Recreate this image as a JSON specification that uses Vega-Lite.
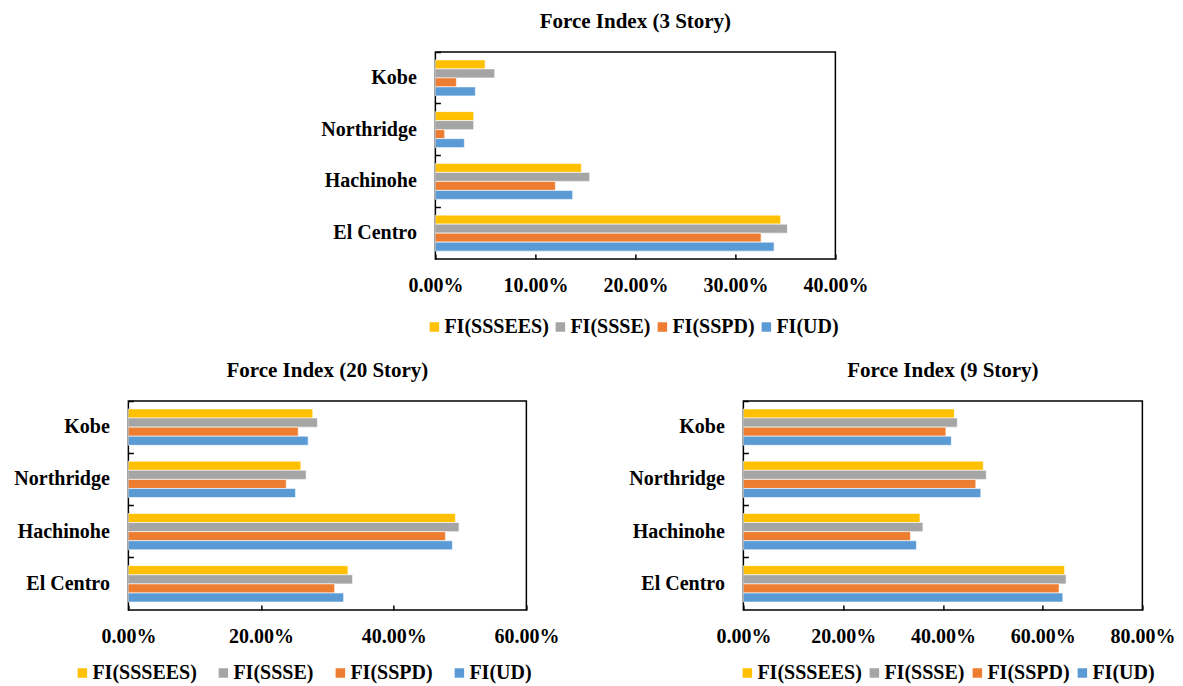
{
  "$schema": "https://vega.github.io/schema/vega-lite/v6.json",
  "padding": {"left": 13, "top": 10, "right": 0, "bottom": 0},
  "background": "white",
  "data": {"values": [
    {"p": "3", "q": "Kobe", "s": "FI(SSSEES)", "v": 0.0497},
    {"p": "3", "q": "Kobe", "s": "FI(SSSE)", "v": 0.0593},
    {"p": "3", "q": "Kobe", "s": "FI(SSPD)", "v": 0.021},
    {"p": "3", "q": "Kobe", "s": "FI(UD)", "v": 0.040},
    {"p": "3", "q": "Northridge", "s": "FI(SSSEES)", "v": 0.0383},
    {"p": "3", "q": "Northridge", "s": "FI(SSSE)", "v": 0.0383},
    {"p": "3", "q": "Northridge", "s": "FI(SSPD)", "v": 0.0093},
    {"p": "3", "q": "Northridge", "s": "FI(UD)", "v": 0.029},
    {"p": "3", "q": "Hachinohe", "s": "FI(SSSEES)", "v": 0.146},
    {"p": "3", "q": "Hachinohe", "s": "FI(SSSE)", "v": 0.1543},
    {"p": "3", "q": "Hachinohe", "s": "FI(SSPD)", "v": 0.120},
    {"p": "3", "q": "Hachinohe", "s": "FI(UD)", "v": 0.1373},
    {"p": "3", "q": "El Centro", "s": "FI(SSSEES)", "v": 0.3453},
    {"p": "3", "q": "El Centro", "s": "FI(SSSE)", "v": 0.352},
    {"p": "3", "q": "El Centro", "s": "FI(SSPD)", "v": 0.3257},
    {"p": "3", "q": "El Centro", "s": "FI(UD)", "v": 0.3387},
    {"p": "20", "q": "Kobe", "s": "FI(SSSEES)", "v": 0.278},
    {"p": "20", "q": "Kobe", "s": "FI(SSSE)", "v": 0.285},
    {"p": "20", "q": "Kobe", "s": "FI(SSPD)", "v": 0.256},
    {"p": "20", "q": "Kobe", "s": "FI(UD)", "v": 0.271},
    {"p": "20", "q": "Northridge", "s": "FI(SSSEES)", "v": 0.260},
    {"p": "20", "q": "Northridge", "s": "FI(SSSE)", "v": 0.268},
    {"p": "20", "q": "Northridge", "s": "FI(SSPD)", "v": 0.238},
    {"p": "20", "q": "Northridge", "s": "FI(UD)", "v": 0.252},
    {"p": "20", "q": "Hachinohe", "s": "FI(SSSEES)", "v": 0.493},
    {"p": "20", "q": "Hachinohe", "s": "FI(SSSE)", "v": 0.4985},
    {"p": "20", "q": "Hachinohe", "s": "FI(SSPD)", "v": 0.478},
    {"p": "20", "q": "Hachinohe", "s": "FI(UD)", "v": 0.4885},
    {"p": "20", "q": "El Centro", "s": "FI(SSSEES)", "v": 0.331},
    {"p": "20", "q": "El Centro", "s": "FI(SSSE)", "v": 0.338},
    {"p": "20", "q": "El Centro", "s": "FI(SSPD)", "v": 0.311},
    {"p": "20", "q": "El Centro", "s": "FI(UD)", "v": 0.3245},
    {"p": "9", "q": "Kobe", "s": "FI(SSSEES)", "v": 0.423},
    {"p": "9", "q": "Kobe", "s": "FI(SSSE)", "v": 0.429},
    {"p": "9", "q": "Kobe", "s": "FI(SSPD)", "v": 0.406},
    {"p": "9", "q": "Kobe", "s": "FI(UD)", "v": 0.417},
    {"p": "9", "q": "Northridge", "s": "FI(SSSEES)", "v": 0.481},
    {"p": "9", "q": "Northridge", "s": "FI(SSSE)", "v": 0.487},
    {"p": "9", "q": "Northridge", "s": "FI(SSPD)", "v": 0.466},
    {"p": "9", "q": "Northridge", "s": "FI(UD)", "v": 0.476},
    {"p": "9", "q": "Hachinohe", "s": "FI(SSSEES)", "v": 0.354},
    {"p": "9", "q": "Hachinohe", "s": "FI(SSSE)", "v": 0.360},
    {"p": "9", "q": "Hachinohe", "s": "FI(SSPD)", "v": 0.335},
    {"p": "9", "q": "Hachinohe", "s": "FI(UD)", "v": 0.347},
    {"p": "9", "q": "El Centro", "s": "FI(SSSEES)", "v": 0.644},
    {"p": "9", "q": "El Centro", "s": "FI(SSSE)", "v": 0.647},
    {"p": "9", "q": "El Centro", "s": "FI(SSPD)", "v": 0.633},
    {"p": "9", "q": "El Centro", "s": "FI(UD)", "v": 0.6405}
  ]},
  "vconcat": [
    {
      "title": "Force Index (3 Story)",
      "width": 400,
      "height": 207,
      "transform": [{"filter": "datum.p === '3'"}],
      "mark": {"type": "bar", "stroke": "white", "strokeWidth": 0.6},
      "encoding": {
        "y": {"field": "q", "type": "nominal", "sort": ["Kobe", "Northridge", "Hachinohe", "El Centro"],
              "scale": {"paddingInner": 0, "paddingOuter": 0},
              "axis": {"bandPosition": 0}},
        "yOffset": {"field": "s", "type": "nominal", "sort": ["FI(SSSEES)", "FI(SSSE)", "FI(SSPD)", "FI(UD)"],
                    "scale": {"paddingInner": 0, "paddingOuter": 0.875}},
        "x": {"field": "v", "type": "quantitative", "scale": {"domain": [0, 0.4], "nice": false},
              "axis": {"values": [0, 0.1, 0.2, 0.3, 0.4], "format": ".2%"}},
        "color": {"field": "s", "type": "nominal",
                  "scale": {"domain": ["FI(SSSEES)", "FI(SSSE)", "FI(SSPD)", "FI(UD)"], "range": ["#FFC000", "#A5A5A5", "#ED7D31", "#5B9BD5"]},
                  "legend": {"orient": "none", "legendX": -11, "legendY": 265, "direction": "horizontal", "columnPadding": 1}}
      }
    },
    {
      "hconcat": [
        {
          "title": "Force Index (20 Story)",
          "width": 398,
          "height": 209,
          "transform": [{"filter": "datum.p === '20'"}],
          "mark": {"type": "bar", "stroke": "white", "strokeWidth": 0.6},
          "encoding": {
            "y": {"field": "q", "type": "nominal", "sort": ["Kobe", "Northridge", "Hachinohe", "El Centro"],
                  "scale": {"paddingInner": 0, "paddingOuter": 0},
                  "axis": {"bandPosition": 0}},
            "yOffset": {"field": "s", "type": "nominal", "sort": ["FI(SSSEES)", "FI(SSSE)", "FI(SSPD)", "FI(UD)"],
                        "scale": {"paddingInner": 0, "paddingOuter": 0.875}},
            "x": {"field": "v", "type": "quantitative", "scale": {"domain": [0, 0.6], "nice": false},
                  "axis": {"values": [0, 0.2, 0.4, 0.6], "format": ".2%"}},
            "color": {"field": "s", "type": "nominal",
                      "scale": {"domain": ["FI(SSSEES)", "FI(SSSE)", "FI(SSPD)", "FI(UD)"], "range": ["#FFC000", "#A5A5A5", "#ED7D31", "#5B9BD5"]},
                      "legend": {"orient": "none", "legendX": -56, "legendY": 262, "direction": "horizontal", "columnPadding": 16}}
          }
        },
        {
          "title": "Force Index (9 Story)",
          "width": 399,
          "height": 209,
          "transform": [{"filter": "datum.p === '9'"}],
          "mark": {"type": "bar", "stroke": "white", "strokeWidth": 0.6},
          "encoding": {
            "y": {"field": "q", "type": "nominal", "sort": ["Kobe", "Northridge", "Hachinohe", "El Centro"],
                  "scale": {"paddingInner": 0, "paddingOuter": 0},
                  "axis": {"bandPosition": 0}},
            "yOffset": {"field": "s", "type": "nominal", "sort": ["FI(SSSEES)", "FI(SSSE)", "FI(SSPD)", "FI(UD)"],
                        "scale": {"paddingInner": 0, "paddingOuter": 0.875}},
            "x": {"field": "v", "type": "quantitative", "scale": {"domain": [0, 0.8], "nice": false},
                  "axis": {"values": [0, 0.2, 0.4, 0.6, 0.8], "format": ".2%"}},
            "color": {"field": "s", "type": "nominal",
                      "scale": {"domain": ["FI(SSSEES)", "FI(SSSE)", "FI(SSPD)", "FI(UD)"], "range": ["#FFC000", "#A5A5A5", "#ED7D31", "#5B9BD5"]},
                      "legend": {"orient": "none", "legendX": -6, "legendY": 262, "direction": "horizontal", "columnPadding": 2}}
          }
        }
      ],
      "spacing": 67,
      "resolve": {"scale": {"color": "independent", "y": "independent", "x": "independent", "yOffset": "independent"}}
    }
  ],
  "center": true,
  "spacing": 21,
  "resolve": {"scale": {"color": "independent", "y": "independent", "x": "independent", "yOffset": "independent"}},
  "config": {
    "font": "Liberation Serif",
    "view": {"stroke": "black", "strokeWidth": 1.5},
    "title": {"fontSize": 21, "fontWeight": "bold", "color": "black", "offset": 19},
    "axis": {
      "title": null, "grid": false, "labelFontSize": 20, "labelFontWeight": "bold", "labelColor": "black",
      "tickColor": "black", "tickSize": 5, "tickWidth": 1.5, "domain": false, "offset": -5,
      "labelPadding": 16, "labelFlush": false
    },
    "axisY": {"labelPadding": 19},
    "legend": {
      "title": null, "labelFontSize": 20, "labelFontWeight": "bold", "labelColor": "black",
      "symbolType": "square", "symbolSize": 90, "symbolStrokeWidth": 0, "labelOffset": 0, "symbolOpacity": 1
    }
  }
}
